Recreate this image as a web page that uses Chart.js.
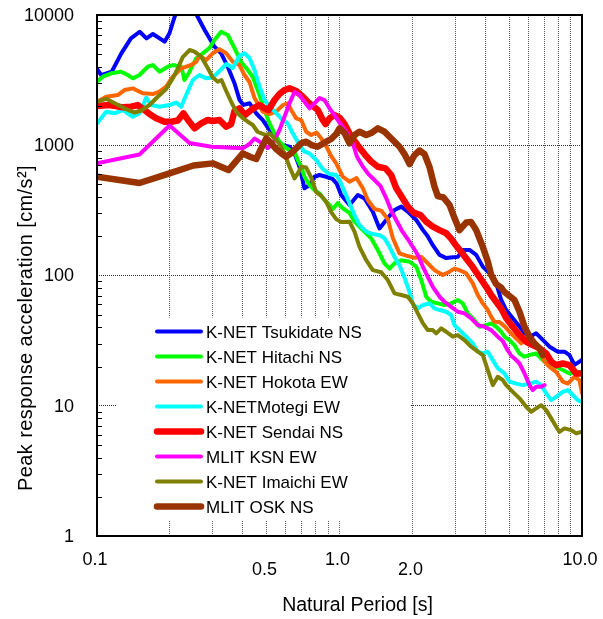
<!DOCTYPE html>
<html>
<head>
<meta charset="utf-8">
<script src="https://cdn.jsdelivr.net/npm/chart.js@4.4.1/dist/chart.umd.min.js"></script>
<style>
  html, body { margin: 0; padding: 0; background: #fff; }
  canvas { display: block; }
</style>
</head>
<body>
<canvas id="chart" width="603" height="619"></canvas>
<script>
// Peak response acceleration spectra: [natural period (s), acceleration (cm/s^2)]
const tsukidateNS = [[0.1,3850],[0.104,3460],[0.115,3670],[0.126,5080],[0.138,6620],[0.150,7440],[0.160,6620],[0.170,7150],[0.190,6240],[0.199,7240],[0.209,9700],[0.230,15000],[0.260,9700],[0.278,7670],[0.305,5710],[0.325,5080],[0.346,4010],[0.369,2990],[0.387,2230],[0.402,2040],[0.426,2100],[0.453,1760],[0.483,1560],[0.514,1310],[0.548,1100],[0.584,1000],[0.622,974],[0.652,867],[0.684,684],[0.717,467],[0.752,495],[0.789,573],[0.827,591],[0.881,573],[0.936,551],[0.972,510],[1.016,415],[1.10,348],[1.19,415],[1.268,391],[1.372,309],[1.462,230],[1.558,267],[1.686,318],[1.797,338],[1.912,309],[2.072,267],[2.206,224],[2.307,201],[2.425,171],[2.585,144],[2.754,136],[2.933,138],[3.075,139],[3.225,157],[3.436,157],[3.662,144],[3.898,117],[4.155,104],[4.429,87.1],[4.644,64.9],[4.869,54.3],[5.183,46.9],[5.525,40.5],[5.794,36.0],[6.075,33.9],[6.473,36.0],[6.893,32.0],[7.345,28.4],[7.947,26.0],[8.47,26.0],[8.88,24.5],[9.31,20.6],[9.766,21.8],[10,22.5]];

const hitachiNS = [[0.1,3075],[0.1057,3359],[0.1144,3566],[0.1258,3670],[0.134,3461],[0.1405,3264],[0.1497,3461],[0.162,4008],[0.1698,4130],[0.181,3670],[0.1959,4008],[0.2054,4130],[0.2225,4008],[0.2295,3168],[0.2407,3670],[0.2565,4649],[0.2731,5079],[0.291,5578],[0.3051,6427],[0.3252,7444],[0.3462,7021],[0.369,5578],[0.3932,4355],[0.4187,3781],[0.4391,3341],[0.4679,2430],[0.4906,1864],[0.5144,1473],[0.5395,1234],[0.5657,1065],[0.5932,974],[0.622,919],[0.6523,892],[0.6731,770],[0.6953,684],[0.7173,573],[0.7522,495],[0.7887,453],[0.8271,427],[0.8673,380],[0.9095,348],[0.9385,324],[0.984,360],[1.032,328],[1.100,302],[1.153,259],[1.248,223],[1.351,193],[1.439,157],[1.533,124],[1.608,113],[1.686,124],[1.797,131],[1.945,127.5],[2.072,117],[2.173,92.3],[2.278,68.7],[2.389,62.9],[2.543,61.1],[2.710,59.3],[2.888,61.1],[3.075,64.8],[3.225,61.1],[3.381,51.2],[3.546,46.9],[3.778,40.4],[4.027,41.6],[4.223,42.9],[4.428,40.4],[4.643,37.0],[4.79,33.9],[5.023,31.9],[5.267,29.2],[5.525,25.2],[5.793,23.8],[6.074,24.5],[6.473,25.2],[6.893,22.4],[7.345,21.1],[7.827,19.9],[8.332,18.8],[8.882,17.7],[9.465,18.2],[10,18.2]];

const hokotaEW = [[0.1,2158],[0.1092,2358],[0.1218,2430],[0.1298,2654],[0.1405,2735],[0.1545,2504],[0.1698,2473],[0.181,2576],[0.1929,2814],[0.2054,3359],[0.2225,3896],[0.2446,4130],[0.2565,4379],[0.2646,4843],[0.282,4512],[0.3002,5079],[0.32,5453],[0.341,5079],[0.3631,4379],[0.3869,4130],[0.4057,3461],[0.4255,3058],[0.4462,2304],[0.4827,1809],[0.5144,1736],[0.5483,1809],[0.5837,2036],[0.612,2098],[0.6321,1864],[0.6629,1609],[0.6953,1562],[0.729,1270],[0.7645,1198],[0.8038,1252],[0.8406,1130],[0.8814,986],[0.9243,826],[0.9692,726],[1.032,573],[1.100,525],[1.175,560],[1.248,467],[1.308,380],[1.394,324],[1.486,315],[1.582,271],[1.659,194],[1.768,148],[1.884,142],[2.039,137],[2.173,139],[2.278,127.5],[2.465,110],[2.667,101],[2.842,107],[2.980,113],[3.125,110],[3.330,104],[3.546,87.0],[3.718,70.8],[3.899,61.1],[4.089,54.3],[4.223,48.2],[4.357,44.1],[4.569,43.9],[4.790,40.9],[5.023,37.0],[5.353,32.9],[5.615,30.1],[5.887,33.9],[6.267,31.0],[6.679,26.8],[7.005,21.8],[7.345,19.9],[7.827,18.2],[8.332,15.3],[8.740,14.8],[9.313,16.7],[9.766,15.7],[10,12.5]];

const motegiEW = [[0.1,1473],[0.1092,1809],[0.1181,1758],[0.1277,1864],[0.1405,1656],[0.1497,1758],[0.1596,2325],[0.1673,2036],[0.181,1976],[0.1991,2036],[0.2121,2128],[0.2225,1976],[0.2332,2430],[0.2484,3168],[0.2646,3461],[0.282,3264],[0.3002,3311],[0.32,3715],[0.341,4204],[0.3631,3917],[0.3869,4843],[0.4057,5079],[0.4255,4674],[0.4462,3781],[0.4679,2814],[0.4906,2224],[0.5144,2000],[0.5483,1767],[0.5837,1562],[0.612,1473],[0.6419,1234],[0.6841,1004],[0.7173,892],[0.7522,867],[0.8016,770],[0.8534,657],[0.9095,601],[0.9692,591],[1.0,541],[1.049,441],[1.100,358],[1.153,291],[1.209,244],[1.289,217],[1.372,208],[1.462,204],[1.533,193],[1.608,166],[1.686,139],[1.768,120],[1.854,96.4],[1.945,74.6],[2.006,60.3],[2.104,55.9],[2.206,59.3],[2.351,61.1],[2.465,55.9],[2.585,54.3],[2.754,52.7],[2.888,49.7],[2.980,41.6],[3.125,38.1],[3.330,33.9],[3.546,30.1],[3.718,26.0],[3.899,25.2],[4.089,26.0],[4.287,22.4],[4.495,19.4],[4.790,17.7],[5.023,15.3],[5.353,14.8],[5.700,14.4],[6.074,14.8],[6.473,15.3],[6.788,14.4],[7.119,12.4],[7.465,11.05],[7.827,11.7],[8.332,12.8],[8.740,13.2],[9.164,12.1],[9.610,11.05],[10,10.7]];

const sendaiNS = [[0.1,2000],[0.1126,2036],[0.1277,1955],[0.1383,1976],[0.1473,2036],[0.157,1864],[0.1646,1736],[0.1754,1609],[0.1898,1516],[0.2023,1516],[0.2154,1548],[0.2273,1758],[0.2373,1562],[0.2524,1349],[0.2689,1473],[0.2863,1562],[0.3002,1535],[0.32,1562],[0.341,1388],[0.3575,1455],[0.369,1831],[0.3869,1921],[0.4076,1706],[0.4324,1864],[0.4505,1965],[0.4679,2036],[0.4906,1921],[0.5095,1864],[0.5395,2224],[0.5657,2473],[0.5932,2654],[0.622,2735],[0.6629,2608],[0.7058,2358],[0.7402,2147],[0.7761,2000],[0.8139,1864],[0.8534,1562],[0.8756,1455],[0.9095,1609],[0.9537,1706],[1.0,1632],[1.049,1455],[1.118,1163],[1.190,995],[1.268,856],[1.351,750],[1.439,684],[1.548,665],[1.634,591],[1.713,469],[1.797,407],[1.908,341],[2.019,304],[2.158,291],[2.278,259],[2.426,237],[2.585,223],[2.754,211],[2.897,190],[3.037,168],[3.185,151],[3.330,135],[3.546,116],[3.778,97.3],[4.027,81.9],[4.223,70.8],[4.428,62.9],[4.643,55.7],[4.868,47.1],[5.183,40.4],[5.525,34.9],[5.887,31.0],[6.267,29.2],[6.679,27.6],[7.119,25.2],[7.465,21.8],[7.827,20.5],[8.332,21.1],[8.882,20.5],[9.465,17.7],[10,17.7]];

const ksnEW = [[0.1,726],[0.1497,849],[0.1991,1417],[0.2407,1040],[0.2966,974],[0.3992,947],[0.4255,1022],[0.4462,1127],[0.4679,1065],[0.4906,1004],[0.5062,952],[0.5228,1004],[0.5395,1097],[0.5657,1309],[0.5932,1656],[0.622,2098],[0.6523,2562],[0.6841,2430],[0.7173,2158],[0.7522,1921],[0.7887,2098],[0.8271,2304],[0.8673,2224],[0.9095,1921],[0.9537,1706],[1.0,1494],[1.066,1270],[1.135,1035],[1.181,816],[1.244,692],[1.308,609],[1.394,541],[1.476,486],[1.558,393],[1.634,315],[1.726,260],[1.819,217],[1.917,189],[2.006,166],[2.104,143.5],[2.206,117],[2.313,97.8],[2.426,81.9],[2.585,68.7],[2.710,62.9],[2.888,57.5],[3.075,52.7],[3.277,51.2],[3.492,46.9],[3.718,41.6],[3.962,40.4],[4.223,38.1],[4.495,33.9],[4.714,31.4],[4.929,26.8],[5.120,24.1],[5.267,23.1],[5.525,21.1],[5.793,17.7],[6.074,14.4],[6.267,13.2],[6.473,14.0],[6.788,14.0],[7.005,14.4]];

const imaichiEW = [[0.1,2158],[0.1092,2272],[0.12,2072],[0.1298,1921],[0.1428,1783],[0.1521,1848],[0.1646,2036],[0.1781,2358],[0.1929,2701],[0.2054,3264],[0.2154,3896],[0.2258,4758],[0.2407,5385],[0.2524,5226],[0.2689,4784],[0.2863,3917],[0.3002,3311],[0.3149,3075],[0.3261,3168],[0.341,2608],[0.3575,2158],[0.375,1809],[0.3992,1618],[0.4187,1516],[0.4391,1430],[0.4591,1270],[0.4769,1234],[0.4986,1198],[0.5144,1234],[0.5395,1130],[0.5657,1022],[0.5932,867],[0.622,684],[0.6523,557],[0.6731,609],[0.6953,684],[0.729,674],[0.7645,565],[0.8016,437],[0.8406,409],[0.8814,368],[0.9243,307],[0.9692,271],[1.016,257],[1.100,259],[1.153,217],[1.209,166],[1.289,131],[1.372,110],[1.486,106],[1.582,92.3],[1.686,72.9],[1.797,70.8],[1.913,68.7],[2.006,61.1],[2.104,51.2],[2.206,43.1],[2.313,38.1],[2.426,38.1],[2.505,35.9],[2.627,39.3],[2.754,37.0],[2.932,33.9],[3.075,34.9],[3.277,31.9],[3.492,28.4],[3.718,26.0],[3.899,24.5],[4.089,18.8],[4.287,14.4],[4.495,16.7],[4.714,15.7],[4.868,14.4],[5.183,12.8],[5.525,11.4],[5.887,9.82],[6.173,8.99],[6.473,9.54],[6.788,10.1],[7.119,9.26],[7.465,8.00],[7.827,6.89],[8.075,6.31],[8.468,6.70],[9.027,6.50],[9.465,6.13],[10,6.31]];

const oskNS = [[0.1,573],[0.1497,513],[0.1991,609],[0.25,699],[0.3002,726],[0.3485,645],[0.3992,867],[0.4296,812],[0.4535,784],[0.4755,947],[0.4986,1130],[0.5228,1035],[0.5483,935],[0.5749,867],[0.6029,816],[0.6321,871],[0.6629,947],[0.6953,1035],[0.729,1065],[0.7666,1004],[0.8115,974],[0.8814,1065],[0.9243,1117],[0.9692,1219],[1.0,1349],[1.049,1241],[1.100,1035],[1.153,1198],[1.209,1270],[1.289,1198],[1.351,1241],[1.439,1349],[1.533,1270],[1.659,1097],[1.768,974],[1.854,856],[1.945,717],[2.039,841],[2.138,911],[2.242,856],[2.351,680],[2.465,480],[2.543,407],[2.684,397],[2.842,348],[2.980,276],[3.125,223],[3.330,255],[3.492,257],[3.662,223],[3.899,166],[4.089,128],[4.223,101],[4.428,85.9],[4.643,80.8],[4.790,74.6],[5.023,69.5],[5.267,64.8],[5.525,52.7],[5.793,40.4],[6.074,33.9],[6.369,30.1],[6.679,27.6],[6.893,24.5]];

const seriesNames = ['K-NET Tsukidate NS','K-NET Hitachi NS','K-NET Hokota EW','K-NETMotegi EW','K-NET Sendai NS','MLIT KSN EW','K-NET Imaichi EW','MLIT OSK NS'];
const seriesData = [tsukidateNS, hitachiNS, hokotaEW, motegiEW, sendaiNS, ksnEW, imaichiEW, oskNS];

// Axis gridlines and labels
const periodGrid = [0.1,0.2,0.3,0.4,0.5,0.6,0.7,0.8,0.9,1,2,3,4,5,6,7,8,9,10];
const periodLabelValues = [0.1, 0.5, 1, 2, 10];
const periodLabelTexts = ['0.1', '0.5', '1.0', '2.0', '10.0'];
const accelTicks = [1, 10, 100, 1000, 10000];
const accelLabelTexts = ['1', '10', '100', '1000', '10000'];

const seriesColors = ['#0000ff','#00ff00','#ff6600','#00ffff','#ff0000','#ff00ff','#808000','#993300'];
const seriesWidths = [4, 4, 4, 4, 6.5, 4, 4, 6.5];

const FONT = '"Liberation Sans", Arial, sans-serif';

const decorations = {
  id: 'decorations',
  beforeDraw(chart) {
    const ctx = chart.ctx;
    ctx.save();
    ctx.fillStyle = '#ffffff';
    ctx.fillRect(0, 0, chart.width, chart.height);
    ctx.restore();
  },
  afterDatasetsDraw(chart) {
    const { ctx, chartArea: a, scales: { x, y } } = chart;
    ctx.save();

    // minor ticks on the left axis
    ctx.strokeStyle = '#000';
    ctx.lineWidth = 1;
    ctx.beginPath();
    for (let d = 1; d < 10000; d *= 10) {
      for (let m = 2; m <= 9; m++) {
        const py = Math.round(y.getPixelForValue(m * d)) + 0.5;
        ctx.moveTo(a.left, py);
        ctx.lineTo(a.left + 5, py);
      }
    }
    ctx.stroke();

    // legend panel
    ctx.fillStyle = '#ffffff';
    ctx.fillRect(117, 317.5, 294, 202.5);
    const rowTop = 331.5, rowStep = 25;
    ctx.font = '17px ' + FONT;
    ctx.textAlign = 'left';
    ctx.textBaseline = 'alphabetic';
    seriesNames.forEach((name, i) => {
      const ry = rowTop + i * rowStep;
      ctx.strokeStyle = seriesColors[i];
      ctx.lineWidth = seriesWidths[i];
      ctx.lineCap = 'round';
      ctx.beginPath();
      ctx.moveTo(157, ry);
      ctx.lineTo(201, ry);
      ctx.stroke();
      ctx.fillStyle = '#000';
      ctx.fillText(name, 206, ry + 6);
    });

    // plot frame
    ctx.lineCap = 'butt';
    ctx.strokeStyle = '#000';
    ctx.lineWidth = 2;
    ctx.strokeRect(a.left, a.top, a.right - a.left, a.bottom - a.top);

    // tick labels
    ctx.fillStyle = '#000';
    ctx.font = '18px ' + FONT;
    ctx.textAlign = 'right';
    ctx.textBaseline = 'middle';
    accelTicks.forEach((v, i) => {
      ctx.fillText(accelLabelTexts[i], a.left - 23, y.getPixelForValue(v) + 1);
    });
    ctx.textAlign = 'center';
    ctx.textBaseline = 'alphabetic';
    periodLabelValues.forEach((v, i) => {
      const by = a.bottom + (i % 2 ? 39 : 29);
      ctx.fillText(periodLabelTexts[i], x.getPixelForValue(v) - 2, by);
    });

    // axis titles
    ctx.font = '19.5px ' + FONT;
    ctx.fillText('Natural Period [s]', 357.5, 611);
    ctx.save();
    ctx.translate(26, 328);
    ctx.rotate(-Math.PI / 2);
    ctx.font = '20px ' + FONT;
    ctx.letterSpacing = '0.4px';
    ctx.textBaseline = 'middle';
    ctx.fillText('Peak response acceleration [cm/s\u00b2]', 0, 0);
    ctx.restore();

    ctx.restore();
  }
};

new Chart(document.getElementById('chart'), {
  type: 'scatter',
  data: {
    datasets: seriesData.map((pts, i) => ({
      label: seriesNames[i],
      data: pts.map(([t, acc]) => ({ x: t, y: acc })),
      showLine: true,
      borderColor: seriesColors[i],
      backgroundColor: seriesColors[i],
      borderWidth: seriesWidths[i],
      borderJoinStyle: 'round',
      borderCapStyle: 'round',
      pointRadius: 0,
      tension: 0,
      clip: 0,
      order: -i
    }))
  },
  options: {
    responsive: false,
    animation: false,
    devicePixelRatio: 1,
    layout: { padding: { left: 97, right: 21, top: 15, bottom: 83 } },
    plugins: { legend: { display: false }, tooltip: { enabled: false } },
    scales: {
      x: {
        type: 'logarithmic',
        min: 0.1, max: 10,
        afterBuildTicks: s => { s.ticks = periodGrid.map(v => ({ value: v })); },
        ticks: { display: false },
        grid: { color: '#5a5a5a', lineWidth: 1, drawTicks: false },
        border: { display: false, dash: [1, 1] }
      },
      y: {
        type: 'logarithmic',
        min: 1, max: 10000,
        afterBuildTicks: s => { s.ticks = accelTicks.map(v => ({ value: v })); },
        ticks: { display: false },
        grid: { color: '#303030', lineWidth: 1, drawTicks: false },
        border: { display: false, dash: [1, 1] }
      }
    }
  },
  plugins: [decorations]
});
</script>
</body>
</html>
